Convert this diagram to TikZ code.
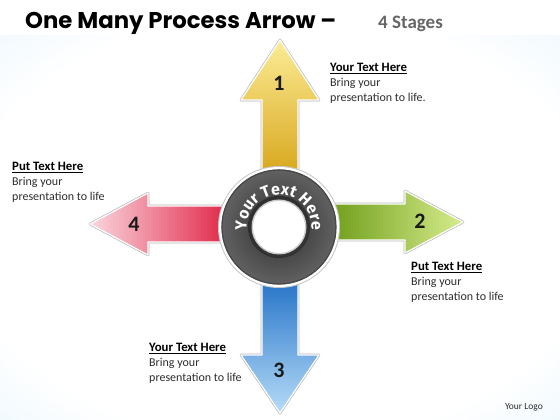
\documentclass[tikz,border=0pt]{standalone}
\usepackage{fontspec}
\setmainfont{Carlito}
\newfontfamily\poppins{Poppins}
\newfontfamily\firasans{Fira Sans}
\usetikzlibrary{decorations.text}
\definecolor{bgblue}{RGB}{214,238,251}
\definecolor{ytop}{RGB}{252,236,150}
\definecolor{ybot}{RGB}{214,164,24}
\definecolor{gleft}{RGB}{104,152,18}
\definecolor{gright}{RGB}{214,236,140}
\definecolor{btop}{RGB}{28,108,196}
\definecolor{bbot}{RGB}{182,220,248}
\definecolor{rright}{RGB}{222,24,58}
\definecolor{rleft}{RGB}{250,214,222}
\definecolor{bodygray}{RGB}{45,45,45}
\pgfdeclareradialshading{bgshade}{\pgfpoint{0cm}{0cm}}{color(0bp)=(white); color(28bp)=(white); color(42bp)=(bgblue!60); color(55bp)=(bgblue); color(100bp)=(bgblue)}
\tikzset{
  arrowedge/.style={draw=black!28, line width=2.6pt, line join=round},
  arrowbody/.style={draw=white, line width=1.2pt, line join=round},
  numtxt/.style={font=\fontsize{22}{22}\selectfont\bfseries, text=black!90},
  infotxt/.style={anchor=north west, align=left, inner sep=0pt,
    font=\fontsize{12}{15}\selectfont, text=bodygray},
}
\newcommand\infohead[1]{{\fontsize{12.8}{15}\selectfont\color{black}\underline{\textbf{#1}}}}
\newcommand\disktxt{\firasans\bfseries\fontsize{16}{16}\selectfont}
\begin{document}
\begin{tikzpicture}[x=1pt,y=1pt]
\useasboundingbox (0,0) rectangle (560,420);
% background
\fill[white] (0,0) rectangle (560,420);
\shade[shading=bgshade] (0,0) rectangle (560,384);
% title
\node[anchor=base west, inner sep=0pt, font=\poppins\fontsize{22.8}{23}\selectfont\bfseries] (title) at (25,391) {One Many Process Arrow –};
\node[anchor=base west, inner sep=0pt, font=\fontsize{19}{19}\selectfont\bfseries, text=black!60] (stages) at (378,391) {4 Stages};
% arrow 1 (up, yellow)
\def\upA{(262,240) -- (262,320) -- (241,320) -- (280,380) -- (319,320) -- (298,320) -- (298,240) -- cycle}
\draw[arrowedge] \upA;
\shadedraw[arrowbody, top color=ytop, bottom color=ybot] \upA;
% arrow 2 (right, green)
\def\rtA{(320,180) -- (405,180) -- (405,167) -- (463,198) -- (405,229) -- (405,216) -- (320,216) -- cycle}
\draw[arrowedge] \rtA;
\shadedraw[arrowbody, left color=gleft, right color=gright] \rtA;
% arrow 3 (down, blue)
\def\dnA{(262,150) -- (262,65) -- (241,65) -- (280,7) -- (319,65) -- (298,65) -- (298,150) -- cycle}
\draw[arrowedge] \dnA;
\shadedraw[arrowbody, top color=btop, bottom color=bbot] \dnA;
% arrow 4 (left, red)
\def\ltA{(240,178) -- (148,178) -- (148,165) -- (90,196) -- (148,227) -- (148,214) -- (240,214) -- cycle}
\draw[arrowedge] \ltA;
\shadedraw[arrowbody, left color=rleft, right color=rright] \ltA;
% numbers
\node[numtxt] (n1) at (279,337) {1};
\node[numtxt] (n2) at (420,199) {2};
\node[numtxt] (n3) at (279,50) {3};
\node[numtxt] (n4) at (134,196) {4};
% central disk
\coordinate (c) at (279,193);
\fill[black!22] (c) circle[radius=61];
\fill[white] (c) circle[radius=60];
\shade[inner color=black!82, outer color=black!62] (c) circle[radius=57.5];
\draw[black!72, line width=1.2pt] (c) circle[radius=57];
\shade[inner color=black!55, outer color=black!82] (c) circle[radius=31];
\fill[black!20] (c) circle[radius=27.5];
\fill[white] (c) circle[radius=26];
\path[decorate, decoration={text along path, text={|\disktxt|Your Text  Here}, text align=center, text color=white}]
  (c) ++(240:32.5) arc[start angle=240, end angle=-60, radius=32.5];
% info texts
\node[infotxt] (t1) at (330,357) {\infohead{Your Text Here}\\Bring your\\presentation to life.};
\node[infotxt] (t4) at (12,258) {\infohead{Put Text Here}\\Bring your\\presentation to life};
\node[infotxt] (t2) at (411,158) {\infohead{Put Text Here}\\Bring your\\presentation to life};
\node[infotxt] (t3) at (149,77) {\infohead{Your Text Here}\\Bring your\\presentation to life};
\node[anchor=base east, inner sep=0pt, font=\fontsize{9.5}{9.5}\selectfont, text=bodygray] (logo) at (543,10) {Your Logo};
\end{tikzpicture}
\end{document}
